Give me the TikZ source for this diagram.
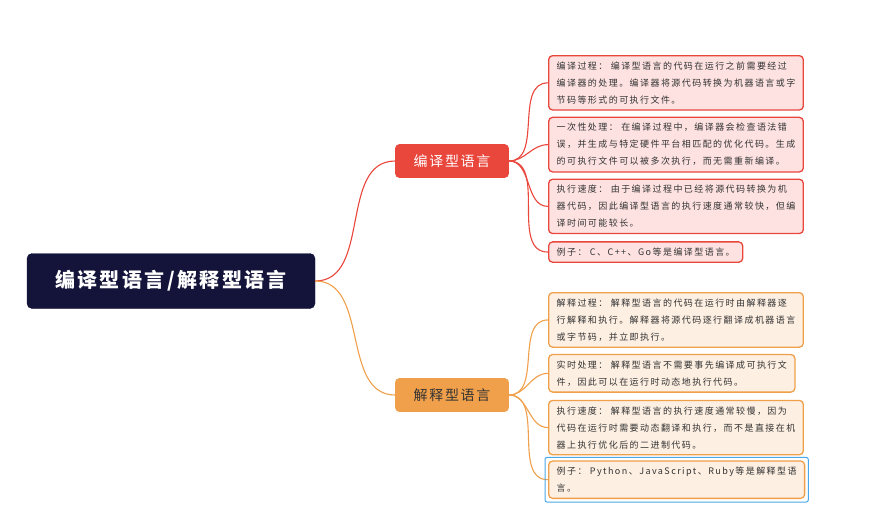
\documentclass[tikz,border=0pt]{standalone}
\usepackage{fontspec}
\setmainfont{Noto Sans CJK SC}
\newfontfamily\mmSpaced[LetterSpace=12]{Noto Sans CJK SC}
\newfontfamily\mmWide[LetterSpace=16]{Noto Sans CJK SC}
\usetikzlibrary{positioning}
\definecolor{mmNavy}{HTML}{14143A}
\definecolor{mmRed}{HTML}{E9463C}
\definecolor{mmRedPale}{HTML}{FDE2E1}
\definecolor{mmOrange}{HTML}{F0A04B}
\definecolor{mmOrangePale}{HTML}{FDEFE2}
\definecolor{mmInk}{HTML}{333333}
\definecolor{mmSelect}{HTML}{4AA8E8}
\newcommand{\mmFigRoot}{\mmSpaced\fontsize{20}{24}\selectfont\bfseries}
\newcommand{\mmFigTopic}{\mmSpaced\fontsize{14}{17}\selectfont}
\newcommand{\mmFigLeaf}{\mmWide\fontsize{9}{17}\selectfont}
\tikzset{
  %% the central topic: dark slab, white heavy text
  mmroot/.style={
    rounded corners=5pt, draw=mmNavy, fill=mmNavy, text=white,
    minimum width=288pt, minimum height=55pt, font=\mmFigRoot},
  %% the two main branches take their colour as argument
  mmtopic/.style={
    rounded corners=4pt, draw=#1, fill=#1, line width=0.8pt,
    minimum width=113pt, minimum height=33pt, font=\mmFigTopic},
  %% detail boxes: pale fill, rim in the branch colour
  mmleaf/.style={
    rounded corners=4pt, draw=#1, fill=#1Pale, line width=1.3pt,
    text=mmInk, align=left, inner xsep=8pt, inner ysep=6pt,
    font=\mmFigLeaf},
  mmlink/.style={draw=#1, line width=1.1pt},
  mmselect/.style={draw=mmSelect, line width=1pt, rounded corners=2pt},
}

\begin{document}
\begin{tikzpicture}[x=1pt,y=-1pt]
\useasboundingbox (0,0) rectangle (894,515);

%% --- centre and the two branches -----------------------------------
\node[mmroot] (root) at (171,281) {编译型语言/解释型语言};
\node[mmtopic=mmRed, text=white] (comp) at (452,161) {编译型语言};
\node[mmtopic=mmOrange, text=mmInk] (interp) at (452,395) {解释型语言};

\draw[mmlink=mmRed]    (root.east) to[out=0,in=180] (comp.west);
\draw[mmlink=mmOrange] (root.east) to[out=0,in=180] (interp.west);

%% --- compiled side -------------------------------------------------
\node[mmleaf=mmRed, anchor=north west] (c1) at (548,55)
  {编译过程： 编译型语言的代码在运行之前需要经过\\
   编译器的处理。编译器将源代码转换为机器语言或字\\
   节码等形式的可执行文件。};
\node[mmleaf=mmRed, below=6pt of c1.south west, anchor=north west] (c2)
  {一次性处理： 在编译过程中，编译器会检查语法错\\
   误，并生成与特定硬件平台相匹配的优化代码。生成\\
   的可执行文件可以被多次执行，而无需重新编译。};
\node[mmleaf=mmRed, below=6pt of c2.south west, anchor=north west] (c3)
  {执行速度： 由于编译过程中已经将源代码转换为机\\
   器代码，因此编译型语言的执行速度通常较快，但编\\
   译时间可能较长。};
\node[mmleaf=mmRed, below=7pt of c3.south west, anchor=north west] (c4)
  {例子： C、C++、Go等是编译型语言。};

\foreach \leaf in {c1,c2,c3,c4}
  \draw[mmlink=mmRed] (comp.east) to[out=0,in=180] (\leaf.west);

%% --- interpreted side ----------------------------------------------
\node[mmleaf=mmOrange, anchor=north west] (o1) at (548,292)
  {解释过程： 解释型语言的代码在运行时由解释器逐\\
   行解释和执行。解释器将源代码逐行翻译成机器语言\\
   或字节码，并立即执行。};
\node[mmleaf=mmOrange, below=6pt of o1.south west, anchor=north west] (o2)
  {实时处理： 解释型语言不需要事先编译成可执行文\\
   件，因此可以在运行时动态地执行代码。};
\node[mmleaf=mmOrange, below=7pt of o2.south west, anchor=north west] (o3)
  {执行速度： 解释型语言的执行速度通常较慢，因为\\
   代码在运行时需要动态翻译和执行，而不是直接在机\\
   器上执行优化后的二进制代码。};
\node[mmleaf=mmOrange, below=5pt of o3.south west, anchor=north west] (o4)
  {例子： Python、JavaScript、Ruby等是解释型语\\
   言。};

\foreach \leaf in {o1,o2,o3,o4}
  \draw[mmlink=mmOrange] (interp.east) to[out=0,in=180] (\leaf.west);

%% the last box is shown selected
\draw[mmselect] ([shift={(-3,3)}]o4.south west) rectangle ([shift={(3,-3)}]o4.north east);

\end{tikzpicture}
\end{document}
